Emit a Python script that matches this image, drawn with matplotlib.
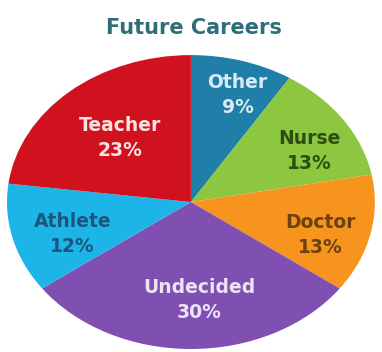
import numpy as np
import matplotlib.pyplot as plt

# career choices, clockwise from 12 o'clock
careers = ["Other", "Nurse", "Doctor", "Undecided", "Athlete", "Teacher"]
shares = [9, 13, 13, 30, 12, 23]

slice_colors = ["#1F7FA8", "#8DC63F", "#F7941D", "#7F4FB2", "#1DB4E8", "#D0121F"]
text_colors = ["#DCEBF3", "#2C4E12", "#6A4210", "#EDE3F5", "#1A5680", "#FBE3E3"]
# how far out (fraction of radius) each label sits, plus a small angle nudge
label_radius = [0.77, 0.73, 0.74, 0.67, 0.68, 0.58]
label_nudge = [-3, -6, -5, 4, 4, 0]


def draw_pie():
    fig = plt.figure(figsize=(3.82, 3.52), dpi=100)
    ax = fig.add_axes([0.0183, 0.0085, 0.963, 0.835])

    wedges, _ = ax.pie(shares, colors=slice_colors, startangle=90,
                       counterclock=False, radius=1.0,
                       wedgeprops=dict(linewidth=0))
    ax.set_aspect("auto")
    ax.set_xlim(-1, 1)
    ax.set_ylim(-1, 1)
    ax.axis("off")

    for w, name, val, r, nudge, tc in zip(wedges, careers, shares,
                                          label_radius, label_nudge, text_colors):
        ang = np.deg2rad((w.theta1 + w.theta2) / 2 + nudge)
        x = r * np.cos(ang)
        y = r * np.sin(ang)
        ax.text(x, y, f"{name}\n{val}%", ha="center", va="center",
                fontsize=13.5, fontweight="bold", color=tc, linespacing=1.4)

    fig.text(0.508, 0.92, "Future Careers", ha="center", va="center",
             fontsize=15, fontweight="bold", color="#2F6D79")

    fig.savefig("out.png", dpi=100)


if __name__ == "__main__":
    draw_pie()
